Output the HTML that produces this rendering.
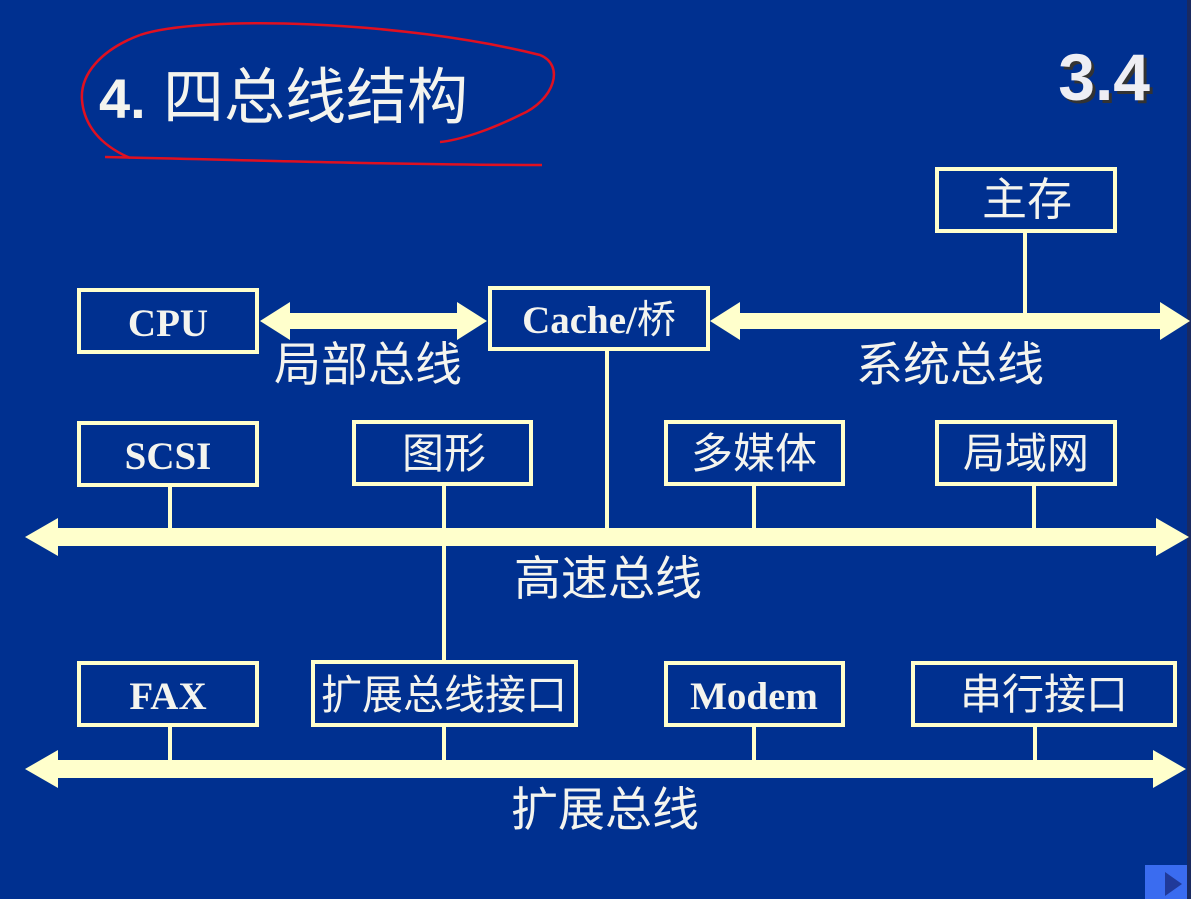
<!DOCTYPE html>
<html><head><meta charset="utf-8"><style>
html,body{margin:0;padding:0;background:#003090;}
svg{display:block}
.s{font-family:"Noto Sans CJK SC",sans-serif;fill:#f4f4ee;}
.r{font-family:"Liberation Serif","Noto Serif CJK SC",serif;font-weight:bold;fill:#f4f4ee;}
</style></head><body>
<svg width="1191" height="899" viewBox="0 0 1191 899" xmlns="http://www.w3.org/2000/svg">
<rect width="1191" height="899" fill="#003090"/>
<rect x="1187" y="0" width="4" height="899" fill="#1a2a60"/>
<rect x="1145" y="865" width="42" height="34" fill="#3a6cf0"/>
<polygon points="1165,872 1182,884 1165,896" fill="#203a9a"/>
<!-- title -->
<text x="99" y="118" font-family="Liberation Sans,sans-serif" font-weight="bold" font-size="56" fill="#f4f4ee">4.</text>
<text x="163" y="118" class="s" font-size="61">四总线结构</text>
<text x="1150" y="100" text-anchor="end" font-family="Liberation Sans,sans-serif" font-weight="bold" font-size="66" fill="#333" transform="translate(3,3)">3.4</text>
<text x="1150" y="100" text-anchor="end" font-family="Liberation Sans,sans-serif" font-weight="bold" font-size="66" fill="#eeeef4">3.4</text>
<g fill="none" stroke="#e01020" stroke-width="2.5">
<path d="M140,35 C200,15 400,20 540,55 C565,65 555,100 520,115 C490,130 460,140 440,142"/>
<path d="M140,35 C100,50 80,75 82,100 C84,125 100,145 130,158"/>
<path d="M105,157 C250,160 400,165 542,165"/>
</g>
<g fill="none" stroke="#ffffcc" stroke-width="4">
<rect x="937" y="169" width="178" height="62"/>
<rect x="79" y="290" width="178" height="62"/>
<rect x="490" y="288" width="218" height="61"/>
<rect x="79" y="423" width="178" height="62"/>
<rect x="354" y="422" width="177" height="62"/>
<rect x="666" y="422" width="177" height="62"/>
<rect x="937" y="422" width="178" height="62"/>
<rect x="79" y="663" width="178" height="62"/>
<rect x="313" y="662" width="263" height="63"/>
<rect x="666" y="663" width="177" height="62"/>
<rect x="913" y="663" width="262" height="62"/>
</g>
<g stroke="#ffffcc" stroke-width="4">
<line x1="1025" y1="233" x2="1025" y2="314"/>
<line x1="607" y1="351" x2="607" y2="530"/>
<line x1="170" y1="487" x2="170" y2="530"/>
<line x1="444" y1="486" x2="444" y2="662"/>
<line x1="754" y1="486" x2="754" y2="530"/>
<line x1="1034" y1="486" x2="1034" y2="530"/>
<line x1="170" y1="727" x2="170" y2="762"/>
<line x1="444" y1="727" x2="444" y2="762"/>
<line x1="754" y1="727" x2="754" y2="762"/>
<line x1="1035" y1="727" x2="1035" y2="762"/>
</g>
<g fill="#ffffcc">
<polygon points="260,321 290,302 290,313 457,313 457,302 487,321 457,340 457,329 290,329 290,340"/>
<polygon points="710,321 740,302 740,313 1160,313 1160,302 1190,321 1160,340 1160,329 740,329 740,340"/>
<polygon points="25,537 58,518 58,528 1156,528 1156,518 1189,537 1156,556 1156,546 58,546 58,556"/>
<polygon points="25,769 58,750 58,760 1153,760 1153,750 1186,769 1153,788 1153,778 58,778 58,788"/>
</g>
<g class="s" font-size="42" text-anchor="middle">
<text x="1027" y="215" font-size="45">主存</text>
<text x="444" y="468">图形</text>
<text x="754" y="468">多媒体</text>
<text x="1026" y="468">局域网</text>
<text x="444" y="709" font-size="41">扩展总线接口</text>
<text x="1044" y="709">串行接口</text>
<text x="368" y="381" font-size="47">局部总线</text>
<text x="950" y="381" font-size="47">系统总线</text>
<text x="608" y="595" font-size="47">高速总线</text>
<text x="605" y="826" font-size="47">扩展总线</text>
</g>
<g class="r" font-size="39" text-anchor="middle">
<text x="168" y="336">CPU</text>
<text x="599" y="333">Cache/<tspan font-family="Noto Sans CJK SC,sans-serif" font-weight="normal">桥</tspan></text>
<text x="168" y="469">SCSI</text>
<text x="168" y="709">FAX</text>
<text x="754" y="709">Modem</text>
</g>
</svg>
</body></html>
